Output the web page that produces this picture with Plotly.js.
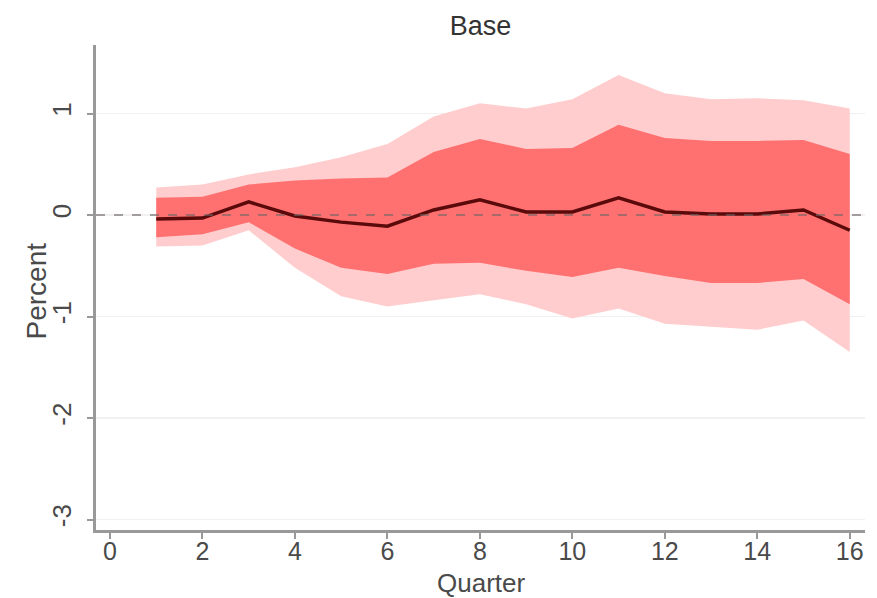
<!DOCTYPE html>
<html>
<head>
<meta charset="utf-8">
<script src="https://cdn.plot.ly/plotly-3.0.1.min.js"></script>
<style>html,body{margin:0;padding:0;background:#fff;}#chart{width:877px;height:598px;}</style>
</head>
<body>
<div id="chart"></div>
<script>
var quarters = [1,2,3,4,5,6,7,8,9,10,11,12,13,14,15,16];
var median   = [-0.04,-0.03,0.13,-0.01,-0.07,-0.11,0.05,0.15,0.03,0.03,0.17,0.03,0.01,0.01,0.05,-0.15];
var innerUp  = [0.17,0.18,0.30,0.34,0.36,0.37,0.62,0.75,0.65,0.66,0.89,0.76,0.73,0.73,0.74,0.60];
var innerLo  = [-0.22,-0.19,-0.07,-0.33,-0.52,-0.58,-0.48,-0.47,-0.55,-0.61,-0.52,-0.60,-0.67,-0.67,-0.63,-0.88];
var outerUp  = [0.27,0.30,0.40,0.47,0.57,0.70,0.97,1.10,1.05,1.14,1.38,1.20,1.14,1.15,1.13,1.05];
var outerLo  = [-0.31,-0.30,-0.15,-0.52,-0.80,-0.90,-0.84,-0.78,-0.88,-1.02,-0.92,-1.07,-1.10,-1.13,-1.04,-1.35];
var xTicks = [0,2,4,6,8,10,12,14,16];
var yTicks = [-3,-2,-1,0,1];

var lightPink = '#ffcdcd', red = '#ff7070';
var traces = [
  {x: quarters, y: outerLo, type:'scatter', mode:'lines', line:{width:0, color:lightPink}, hoverinfo:'skip', showlegend:false},
  {x: quarters, y: outerUp, type:'scatter', mode:'lines', fill:'tonexty', fillcolor:lightPink, line:{width:0, color:lightPink}, hoverinfo:'skip', showlegend:false},
  {x: quarters, y: innerLo, type:'scatter', mode:'lines', line:{width:0, color:red}, hoverinfo:'skip', showlegend:false},
  {x: quarters, y: innerUp, type:'scatter', mode:'lines', fill:'tonexty', fillcolor:red, line:{width:0, color:red}, hoverinfo:'skip', showlegend:false},
  {x: quarters, y: median, type:'scatter', mode:'lines', line:{width:3.5, color:'#5a0a0a'}, showlegend:false}
];

var fontFam = 'Liberation Sans, Arial, sans-serif';
var layout = {
  width: 877, height: 598,
  margin: {l: 96, r: 12, t: 45, b: 68},
  paper_bgcolor: '#ffffff', plot_bgcolor: '#ffffff',
  font: {family: fontFam, color: '#444'},
  title: {text: 'Base', font: {size: 27, color: '#333', family: fontFam}, x: 0.5, xref: 'paper', y: 0.958, yref: 'container', yanchor: 'middle'},
  xaxis: {
    range: [-0.303, 16.33], tickvals: xTicks, ticktext: xTicks.map(String),
    showgrid: false, zeroline: false, showline: true, linecolor: '#999', linewidth: 3,
    ticks: 'outside', ticklen: 6, tickwidth: 2, tickcolor: '#999',
    tickfont: {size: 25, color: '#4a4a4a'}, ticklabelstandoff: -9
  },
  yaxis: {
    range: [-3.103, 1.675], tickvals: yTicks, ticktext: yTicks.map(String),
    tickangle: -90,
    showgrid: true, gridcolor: '#f1f1f1', gridwidth: 1.5, zeroline: false,
    showline: true, linecolor: '#999', linewidth: 3,
    ticks: 'outside', ticklen: 6, tickwidth: 2, tickcolor: '#999',
    tickfont: {size: 26, color: '#4a4a4a'}, ticklabelstandoff: 6
  },
  annotations: [
    {text: 'Quarter', xref: 'paper', x: 0.5, yref: 'paper', y: 0, yshift: -53, yanchor: 'middle', xanchor: 'center',
     showarrow: false, font: {size: 26, color: '#4a4a4a', family: fontFam}},
    {text: 'Percent', xref: 'paper', x: 0, xshift: -60, yref: 'paper', y: 0.5, yshift: -4, textangle: -90,
     xanchor: 'center', yanchor: 'middle', showarrow: false, font: {size: 28, color: '#4a4a4a', family: fontFam}}
  ],
  shapes: [
    {type:'line', xref:'paper', x0:0, x1:1, yref:'y', y0:0, y1:0, layer:'above',
     line:{color:'rgba(110,100,100,0.6)', width:2, dash:'dash'}}
  ]
};
Plotly.newPlot('chart', traces, layout, {displayModeBar:false, staticPlot:true});
</script>
</body>
</html>
